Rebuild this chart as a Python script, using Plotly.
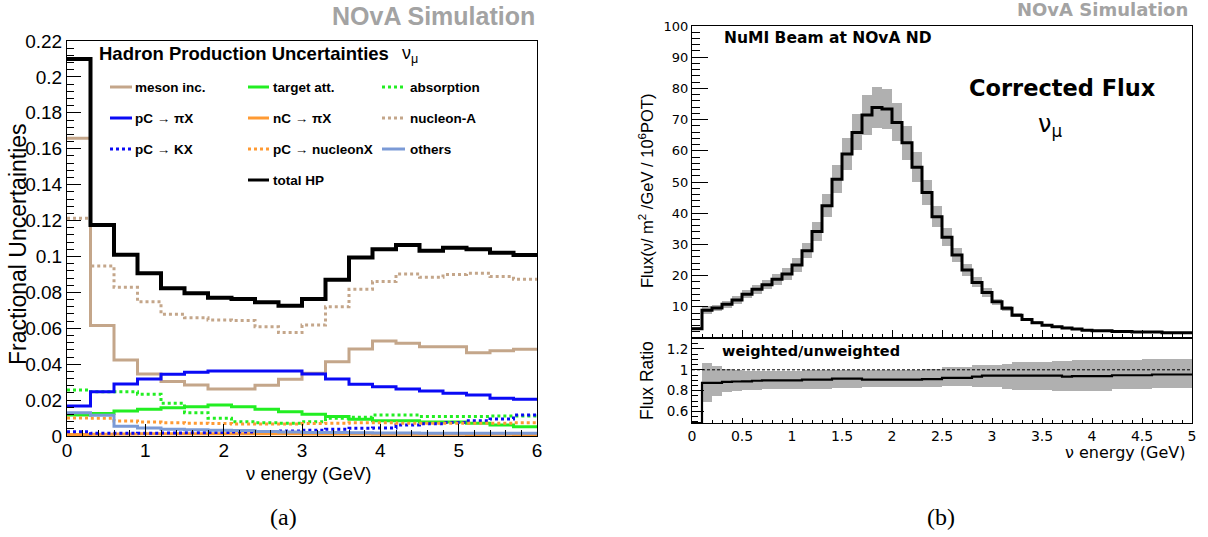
import numpy as np
import plotly.graph_objects as go

W, H = 1208, 537

# ---------------- panel (a): hadron production uncertainties ----------------
edges_a = [round(0.3 * i, 1) for i in range(21)]   # 0.0 ... 6.0 GeV

meson_inc = [0.1658, 0.0615, 0.0423, 0.0345, 0.0303, 0.0284, 0.0262, 0.0262, 0.0282, 0.0316,
             0.0350, 0.0414, 0.0485, 0.0529, 0.0516, 0.0497, 0.0497, 0.0464, 0.0475, 0.0483]
target_att = [0.0117, 0.0126, 0.0139, 0.0149, 0.0158, 0.0163, 0.0173, 0.0163, 0.0149, 0.0135,
              0.0121, 0.0108, 0.0093, 0.0085, 0.0085, 0.0078, 0.0078, 0.0071, 0.0061, 0.0052]
absorption = [0.0256, 0.0247, 0.0247, 0.0232, 0.0182, 0.0130, 0.0099, 0.0080, 0.0074, 0.0071,
              0.0080, 0.0099, 0.0104, 0.0117, 0.0117, 0.0108, 0.0108, 0.0108, 0.0111, 0.0111]
pc_pix = [0.0167, 0.0247, 0.0290, 0.0318, 0.0344, 0.0355, 0.0362, 0.0362, 0.0362, 0.0362,
          0.0345, 0.0318, 0.0288, 0.0275, 0.0262, 0.0251, 0.0238, 0.0228, 0.0210, 0.0204]
nc_pix = [0.0008, 0.0010, 0.0011, 0.0012, 0.0012, 0.0012, 0.0012, 0.0012, 0.0012, 0.0012,
          0.0011, 0.0011, 0.0011, 0.0010, 0.0010, 0.0010, 0.0010, 0.0008, 0.0010, 0.0008]
nucleon_a = [0.1213, 0.0947, 0.0828, 0.0748, 0.0678, 0.0659, 0.0646, 0.0643, 0.0609, 0.0576,
             0.0618, 0.0720, 0.0817, 0.0860, 0.0902, 0.0884, 0.0900, 0.0906, 0.0888, 0.0873]
pc_kx = [0.0024, 0.0015, 0.0015, 0.0016, 0.0017, 0.0018, 0.0020, 0.0022, 0.0025, 0.0028,
         0.0032, 0.0038, 0.0043, 0.0045, 0.0061, 0.0068, 0.0075, 0.0085, 0.0095, 0.0117]
pc_nucleonx = [0.0100, 0.0099, 0.0084, 0.0078, 0.0074, 0.0071, 0.0069, 0.0067, 0.0067, 0.0067,
               0.0069, 0.0071, 0.0074, 0.0074, 0.0071, 0.0071, 0.0071, 0.0071, 0.0071, 0.0074]
others = [0.0130, 0.0115, 0.0055, 0.0045, 0.0038, 0.0035, 0.0032, 0.0030, 0.0025, 0.0022,
          0.0020, 0.0019, 0.0018, 0.0017, 0.0017, 0.0016, 0.0016, 0.0015, 0.0015, 0.0015]
total_hp = [0.2100, 0.1175, 0.1010, 0.0906, 0.0823, 0.0795, 0.0770, 0.0763, 0.0745, 0.0726,
            0.0763, 0.0870, 0.0994, 0.1040, 0.1064, 0.1032, 0.1049, 0.1040, 0.1021, 0.1008]

# ---------------- panel (b): corrected flux ----------------
edges_b = [round(0.1 * i, 1) for i in range(51)]   # 0.0 ... 5.0 GeV
flux = [3.0, 8.9, 9.6, 10.8, 12.2, 14.0, 15.6, 17.1, 18.8, 20.5,
        23.4, 28.0, 34.1, 42.4, 50.9, 59.0, 65.9, 71.5, 73.9, 73.4,
        69.1, 62.6, 54.7, 46.6, 38.9, 32.3, 26.6, 21.8, 17.8, 14.6,
        11.6, 9.5, 7.3, 5.95, 4.9, 4.1, 3.6, 3.2, 2.85, 2.5,
        2.3, 2.3, 2.1, 2.1, 1.9, 1.9, 1.9, 1.7, 1.7, 1.7]
flux_err = [0.4, 1.2, 1.1, 1.1, 1.2, 1.3, 1.4, 1.5, 1.7, 1.8,
            2.1, 2.5, 3.0, 3.7, 4.4, 5.1, 5.8, 6.3, 6.5, 6.4,
            6.1, 5.5, 4.8, 4.1, 3.4, 2.8, 2.3, 1.9, 1.6, 1.3,
            1.0, 0.85, 0.65, 0.55, 0.45, 0.38, 0.33, 0.3, 0.27, 0.25,
            0.23, 0.23, 0.22, 0.22, 0.2, 0.2, 0.2, 0.2, 0.2, 0.2]
ratio = [0.49, 0.875, 0.875, 0.885, 0.888, 0.89, 0.895, 0.898, 0.898, 0.898,
         0.898, 0.905, 0.905, 0.905, 0.915, 0.915, 0.915, 0.905, 0.905, 0.905,
         0.905, 0.905, 0.905, 0.91, 0.91, 0.922, 0.922, 0.922, 0.935, 0.945,
         0.945, 0.945, 0.945, 0.945, 0.945, 0.945, 0.945, 0.935, 0.94, 0.94,
         0.94, 0.94, 0.948, 0.948, 0.948, 0.948, 0.955, 0.955, 0.955, 0.955]
ratio_hi = [None, 1.064, 1.032, 1.01, 0.995, 0.993, 0.993, 0.993, 0.993, 0.993,
            0.993, 0.995, 0.995, 0.995, 0.997, 0.997, 0.997, 0.997, 0.997, 0.997,
            0.997, 0.997, 0.997, 1.01, 1.01, 1.025, 1.025, 1.025, 1.05, 1.05,
            1.05, 1.058, 1.077, 1.077, 1.077, 1.077, 1.085, 1.085, 1.09, 1.09,
            1.09, 1.09, 1.09, 1.09, 1.09, 1.1, 1.1, 1.1, 1.1, 1.1]
ratio_lo = [None, 0.695, 0.753, 0.785, 0.80, 0.805, 0.808, 0.812, 0.812, 0.812,
            0.812, 0.817, 0.817, 0.817, 0.825, 0.825, 0.825, 0.833, 0.833, 0.833,
            0.833, 0.833, 0.833, 0.84, 0.84, 0.849, 0.849, 0.849, 0.833, 0.833,
            0.833, 0.82, 0.81, 0.808, 0.808, 0.808, 0.80, 0.80, 0.80, 0.80,
            0.80, 0.80, 0.817, 0.817, 0.817, 0.82, 0.823, 0.823, 0.823, 0.823]

# ---------------- styles ----------------
TAN = "#c4a68a"
GREEN = "#22ee22"
BLUE = "#0a0af5"
ORANGE = "#ff9a33"
LBLUE = "#7b9ad6"
GRAY = "#b0b0b0"

series_a = [
    ("meson inc.", meson_inc, TAN, "solid"),
    ("target att.", target_att, GREEN, "solid"),
    ("absorption", absorption, GREEN, "dot"),
    ("pC → πX", pc_pix, BLUE, "solid"),
    ("nC → πX", nc_pix, ORANGE, "solid"),
    ("nucleon-A", nucleon_a, TAN, "dot"),
    ("pC → KX", pc_kx, BLUE, "dot"),
    ("pC → nucleonX", pc_nucleonx, ORANGE, "dot"),
    ("others", others, LBLUE, "solid"),
    ("total HP", total_hp, "black", "solid"),
]


def px(x):
    return x / W


def py(y):
    return 1 - y / H


fig = go.Figure()

for name, vals, col, dash in series_a:
    fig.add_trace(go.Scatter(
        x=edges_a, y=list(vals) + [vals[-1]], mode="lines",
        line=dict(shape="hv", color=col, width=4 if name == "total HP" else 3, dash=dash),
        xaxis="x", yaxis="y", showlegend=False, hoverinfo="skip"))

# flux error boxes
centers_b = [(edges_b[i] + edges_b[i + 1]) / 2 for i in range(50)]
fig.add_trace(go.Bar(
    x=centers_b, y=[2 * e for e in flux_err], base=[f - e for f, e in zip(flux, flux_err)],
    width=0.1, marker=dict(color=GRAY, line=dict(width=0)),
    xaxis="x2", yaxis="y2", showlegend=False, hoverinfo="skip"))
fig.add_trace(go.Scatter(
    x=edges_b, y=flux + [flux[-1]], mode="lines",
    line=dict(shape="hv", color="black", width=3),
    xaxis="x2", yaxis="y2", showlegend=False, hoverinfo="skip"))

# ratio band
fig.add_trace(go.Bar(
    x=centers_b,
    y=[(h - l) if h is not None else None for h, l in zip(ratio_hi, ratio_lo)],
    base=ratio_lo, width=0.1, marker=dict(color=GRAY, line=dict(width=0)),
    xaxis="x3", yaxis="y3", showlegend=False, hoverinfo="skip"))
fig.add_trace(go.Scatter(
    x=[0, 5], y=[1, 1], mode="lines", line=dict(color="black", width=1, dash="3px,2px"),
    xaxis="x3", yaxis="y3", showlegend=False, hoverinfo="skip"))
fig.add_trace(go.Scatter(
    x=edges_b, y=ratio + [ratio[-1]], mode="lines",
    line=dict(shape="hv", color="black", width=2.2),
    xaxis="x3", yaxis="y3", showlegend=False, hoverinfo="skip"))

FA = "Liberation Sans, Arial, sans-serif"
FB = "DejaVu Sans, sans-serif"


def ax(**kw):
    base = dict(showline=True, mirror=True, linecolor="black", linewidth=1,
                showgrid=False, zeroline=False, ticks="inside", tickcolor="black",
                tickwidth=1, automargin=False)
    base.update(kw)
    return base


layout = dict(
    width=W, height=H, margin=dict(l=0, r=0, t=0, b=0, autoexpand=False),
    paper_bgcolor="white", plot_bgcolor="white", bargap=0, barmode="overlay",
    xaxis=ax(domain=[px(67), px(537)], anchor="y", range=[0, 6], tickmode="linear",
             tick0=0, dtick=1, ticklen=12, ticklabelstandoff=-3,
             minor=dict(ticks="inside", ticklen=6, dtick=0.2, tick0=0, tickcolor="black"),
             tickfont=dict(family=FA, size=19, color="black")),
    yaxis=ax(domain=[py(436), py(41)], anchor="x", range=[0, 0.22], tickmode="linear",
             tick0=0, dtick=0.02, ticklen=14,
             minor=dict(ticks="inside", ticklen=7, dtick=0.004, tick0=0, tickcolor="black"),
             tickfont=dict(family=FA, size=19, color="black")),
    xaxis2=ax(domain=[px(692), px(1192)], anchor="y2", range=[0, 5], tickmode="linear",
              tick0=0, dtick=0.5, ticklen=8, showticklabels=False,
              minor=dict(ticks="inside", ticklen=4, dtick=0.1, tick0=0, tickcolor="black")),
    yaxis2=ax(domain=[py(338), py(26)], anchor="x2", range=[0, 100], tickmode="array",
              tickvals=[0, 10, 20, 30, 40, 50, 60, 70, 80, 90, 100],
              ticktext=["", "10", "20", "30", "40", "50", "60", "70", "80", "90", "100"],
              ticklen=16,
              minor=dict(ticks="inside", ticklen=8, dtick=2, tick0=0, tickcolor="black"),
              tickfont=dict(family=FB, size=13, color="black")),
    xaxis3=ax(domain=[px(692), px(1192)], anchor="y3", range=[0, 5], tickmode="linear",
              tick0=0, dtick=0.5, ticklen=5,
              minor=dict(ticks="inside", ticklen=3, dtick=0.1, tick0=0, tickcolor="black"),
              tickfont=dict(family=FB, size=14, color="black")),
    yaxis3=ax(domain=[py(423), py(338)], anchor="x3", range=[0.49, 1.305], tickmode="array",
              tickvals=[0.6, 0.8, 1.0, 1.2], ticktext=["0.6", "0.8", "1", "1.2"], ticklen=12,
              minor=dict(ticks="inside", ticklen=6, dtick=0.05, tick0=0, tickcolor="black"),
              tickfont=dict(family=FB, size=13.5, color="black")),
)
fig.update_layout(**layout)

ann = []


def text(x, y, s, size, family=FA, color="black", xanchor="center", angle=0):
    ann.append(dict(xref="paper", yref="paper", x=px(x), y=py(y), text=s, showarrow=False,
                    xanchor=xanchor, yanchor="middle", textangle=angle,
                    font=dict(family=family, size=size, color=color)))


# panel (a) texts
text(537, 16, "<b>NOvA Simulation</b>", 25, color="#a3a3a3", xanchor="right")
text(97, 53, "<b>Hadron Production Uncertainties</b>", 18.5, xanchor="left")
text(400, 55, "ν<sub>μ</sub>", 18, xanchor="left")
text(18, 244, "Fractional Uncertainties", 23, angle=-90)
text(308, 473, "ν energy (GeV)", 18.5)
text(283, 517, "(a)", 24, family="Liberation Serif, DejaVu Serif, serif")

# legend (a)
row_y = [87, 118, 149, 180]
col_sample = [(110, 132), (248, 269), (382, 405)]
col_text = [133, 271, 408]
legend_pos = [(0, 0), (1, 0), (2, 0), (0, 1), (1, 1), (2, 1), (0, 2), (1, 2), (2, 2), (1, 3)]
shapes = []
for (name, vals, col, dash), (c, r) in zip(series_a, legend_pos):
    x0, x1 = col_sample[c]
    shapes.append(dict(type="line", xref="paper", yref="paper", x0=px(x0), x1=px(x1),
                       y0=py(row_y[r]), y1=py(row_y[r]),
                       line=dict(color=col, width=3, dash=dash)))
    text(col_text[c], row_y[r], "<b>" + name + "</b>", 13.5, xanchor="left")

# panel (b) texts
text(1190, 9, "<b>NOvA Simulation</b>", 18, family=FB, color="#a3a3a3", xanchor="right")
text(722, 38, "<b>NuMI Beam at NOvA ND</b>", 15.5, family=FB, xanchor="left")
text(1062, 88, "<b>Corrected Flux</b>", 22.5, family=FB)
text(1050, 126, "ν<sub>μ</sub>", 24, family=FB)
text(720, 351, "<b>weighted/unweighted</b>", 14.5, family=FB, xanchor="left")
text(646, 191, "Flux(ν/ m<sup>2</sup> /GeV / 10<sup>6</sup>POT)", 16.5, angle=-90)
text(647, 381, "Flux Ratio", 17.5, angle=-90)
text(1188, 452, "ν energy (GeV)", 16, family=FB, xanchor="right")
text(941, 517, "(b)", 24, family="Liberation Serif, DejaVu Serif, serif")

fig.update_layout(annotations=ann, shapes=shapes)
fig.write_html("out.html")
